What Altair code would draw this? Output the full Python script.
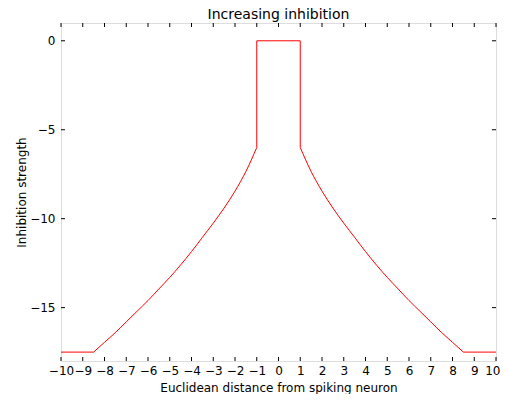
import altair as alt
import pandas as pd

# distances |x| and read-off inhibition strengths for the decaying part
dist = [1.0, 1.5, 2.0, 2.5, 3.0, 3.5, 4.0, 4.5, 5.0, 5.5, 6.0, 6.5, 7.0, 7.5, 8.0, 8.5]
strength = [-6.0, -7.35, -8.45, -9.4, -10.25, -11.05, -11.85, -12.6, -13.3, -13.95,
            -14.6, -15.2, -15.8, -16.4, -16.95, -17.5]
plateau = -17.5
peak = 0.0
x_ticks = list(range(-10, 11))
y_ticks = [0, -5, -10, -15]

# straight pieces: plateaus and the central box
lin_rows = [
    ("pl", -10.0, plateau), ("pl", -dist[-1], plateau),
    ("pr", dist[-1], plateau), ("pr", 10.0, plateau),
    ("box", -dist[0], strength[0]), ("box", -dist[0], peak),
    ("box", dist[0], peak), ("box", dist[0], strength[0]),
]
lin = pd.DataFrame(lin_rows, columns=["seg", "x", "y"])
lin["order"] = range(len(lin))

# curved pieces
cur_rows = []
for d, s in zip(reversed(dist), reversed(strength)):
    cur_rows.append(("cl", -d, s))
for d, s in zip(dist, strength):
    cur_rows.append(("cr", d, s))
cur = pd.DataFrame(cur_rows, columns=["seg", "x", "y"])
cur["order"] = range(len(cur))

W, H = 435, 338
xscale = alt.Scale(domain=[-10, 10], nice=False, zero=False)
yscale = alt.Scale(domain=[-18, 1], nice=False, zero=False)

axis_common = dict(tickSize=0, grid=False, domain=False, labelFontSize=12,
                   titleFontSize=12, titleFontWeight="normal", labelFont="DejaVu Sans",
                   titleFont="DejaVu Sans", labelColor="black", titleColor="black",
                   labelOverlap=False)
xaxis = alt.Axis(values=x_ticks, title="Euclidean distance from spiking neuron",
                 labelPadding=4, titlePadding=6, labelFlush=False,
                 labelAlign=alt.expr("datum.value == 10 ? 'right' : 'center'"),
                 labelOffset=alt.expr("datum.value == 10 ? 4 : 0"),
                 **axis_common)
yaxis = alt.Axis(values=y_ticks, title="Inhibition strength",
                 labelPadding=6, titlePadding=1, **axis_common)

curve = alt.Chart(cur).mark_line(color="#ff0000", strokeWidth=1, interpolate="monotone").encode(
    x=alt.X("x:Q", scale=xscale, axis=xaxis), y=alt.Y("y:Q", scale=yscale, axis=yaxis),
    detail="seg:N", order="order:Q")
straight = alt.Chart(lin).mark_line(color="#ff0000", strokeWidth=1).encode(
    x=alt.X("x:Q", scale=xscale, axis=xaxis), y=alt.Y("y:Q", scale=yscale, axis=yaxis),
    detail="seg:N", order="order:Q")

xt = pd.DataFrame({"t": x_ticks})
yt = pd.DataFrame({"t": y_ticks})

bot = alt.Chart(xt).mark_rule(color="black", strokeWidth=1).encode(
    x=alt.X("t:Q", scale=xscale, axis=xaxis), y=alt.value(H), y2=alt.value(H - 4))
top = alt.Chart(xt).mark_rule(color="black", strokeWidth=1).encode(
    x=alt.X("t:Q", scale=xscale, axis=xaxis), y=alt.value(0), y2=alt.value(4))
left = alt.Chart(yt).mark_rule(color="black", strokeWidth=1).encode(
    y=alt.Y("t:Q", scale=yscale, axis=yaxis), x=alt.value(0), x2=alt.value(4))
right = alt.Chart(yt).mark_rule(color="black", strokeWidth=1).encode(
    y=alt.Y("t:Q", scale=yscale, axis=yaxis), x=alt.value(W), x2=alt.value(W - 4))

chart = alt.layer(curve, straight, bot, top, left, right).properties(
    width=W, height=H,
    title=alt.TitleParams("Increasing inhibition", fontSize=14, font="DejaVu Sans",
                          fontWeight="normal", color="black", offset=1),
    autosize=alt.AutoSizeParams(type="none"),
    padding={"left": 53, "top": 15, "right": 4, "bottom": 33},
).configure_view(stroke="black", strokeWidth=1).configure(background="white")

chart.save("out.html", embed_options={"renderer": "svg", "actions": False})
